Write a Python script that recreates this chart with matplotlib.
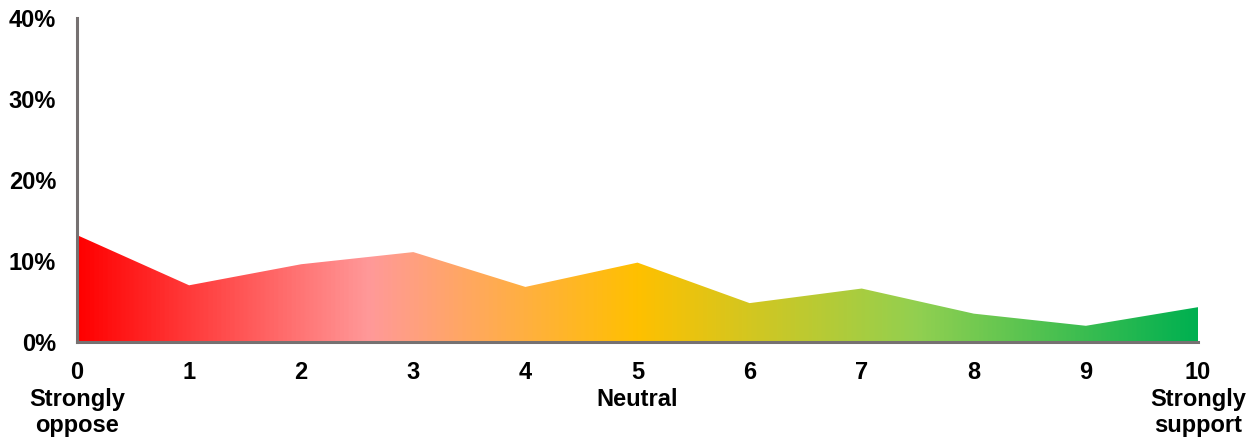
import matplotlib

matplotlib.use("Agg")

import matplotlib.pyplot as plt
import numpy as np
from matplotlib.colors import LinearSegmentedColormap
from matplotlib.transforms import blended_transform_factory

# scale positions and share of answers (%)
scores = [0, 1, 2, 3, 4, 5, 6, 7, 8, 9, 10]
shares = [13.2, 7.0, 9.6, 11.1, 6.8, 9.8, 4.8, 6.6, 3.5, 2.0, 4.3]
y_ticks = [0, 10, 20, 30, 40]
end_labels = {0: "Strongly\noppose", 5: "Neutral", 10: "Strongly\nsupport"}

grad_stops = [
    (0.0, "#FF0000"),
    (0.26, "#FF9999"),
    (0.5, "#FFC000"),
    (0.75, "#92D050"),
    (1.0, "#00B050"),
]

plt.rcParams["font.family"] = ["Liberation Sans", "DejaVu Sans"]
plt.rcParams["font.weight"] = "bold"

fig = plt.figure(figsize=(12.59, 4.44), dpi=100)
ax = fig.add_axes([77 / 1259, 102 / 444, 1121 / 1259, 324 / 444])

poly = ax.fill_between(scores, shares, 0, color="none", linewidth=0)
cmap = LinearSegmentedColormap.from_list("scale", grad_stops)
gradient = np.linspace(0, 1, 512).reshape(1, -1)
img = ax.imshow(gradient, cmap=cmap, extent=[0, 10, 0, 40], aspect="auto",
                origin="lower", zorder=1)
path = poly.get_paths()[0]
img.set_clip_path(path, transform=ax.transData)

ax.set_xlim(0, 10)
ax.set_ylim(0, 40)
ax.set_xticks(scores)
ax.set_xticklabels([str(s) for s in scores])
ax.set_yticks(y_ticks)
ax.set_yticklabels([f"{t}%" for t in y_ticks])
ax.tick_params(axis="both", length=0, labelsize=17)
ax.tick_params(axis="x", pad=14)
ax.tick_params(axis="y", pad=15)

for side in ("top", "right"):
    ax.spines[side].set_visible(False)
for side in ("left", "bottom"):
    ax.spines[side].set_color("#767171")
    ax.spines[side].set_linewidth(2.2)
    ax.spines[side].set_zorder(3)

trans = blended_transform_factory(ax.transData, fig.transFigure)
for pos, text in end_labels.items():
    ax.text(pos, 1 - 388 / 444, text, transform=trans, ha="center", va="top",
            fontsize=17, fontweight="bold", linespacing=1.17)

fig.savefig("out.png", dpi=100)
